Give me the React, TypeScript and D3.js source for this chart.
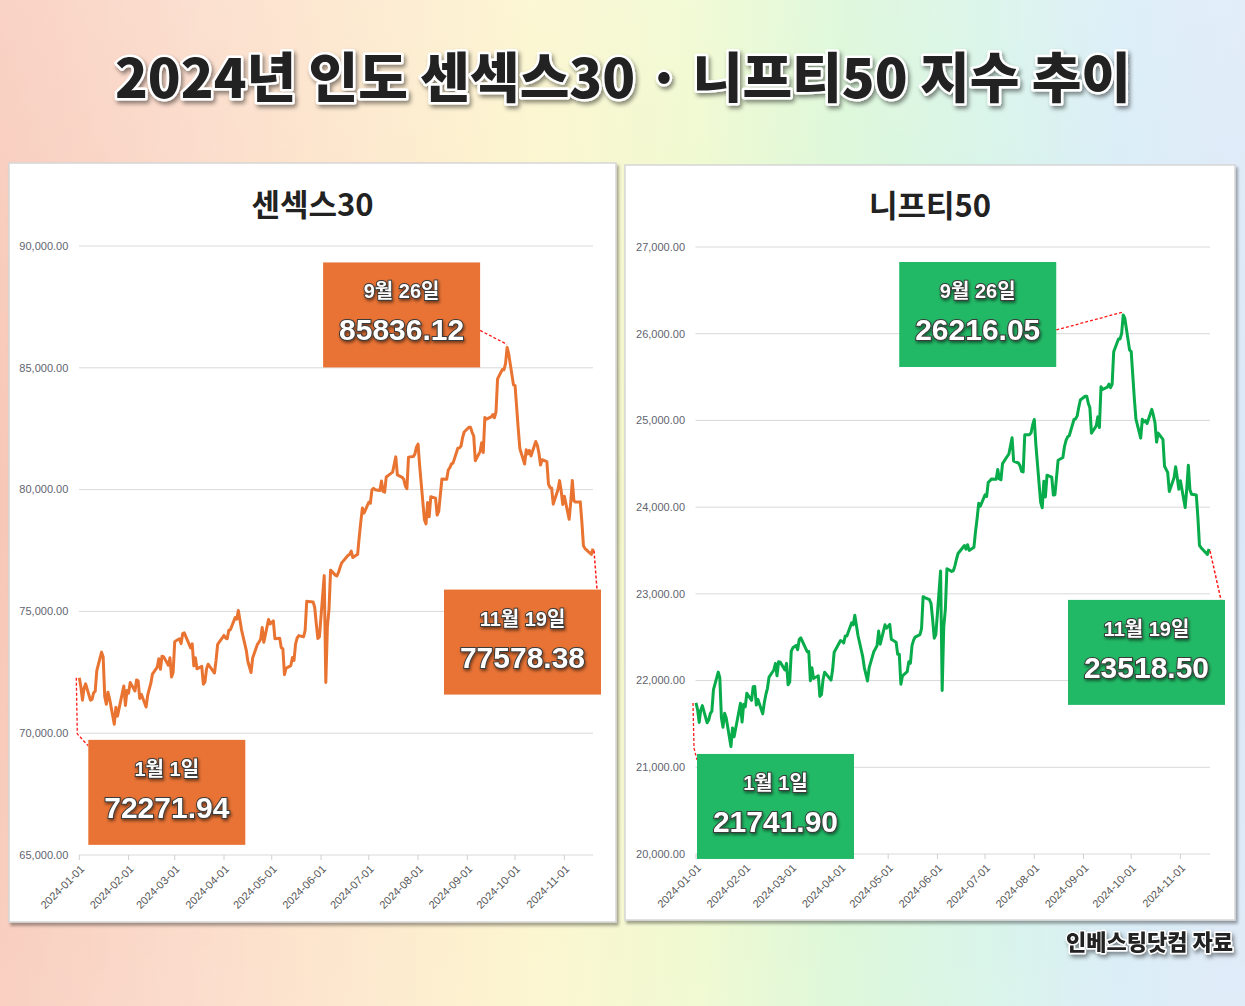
import React from 'react';
import * as d3 from 'd3';

const W = 1245;
const H = 1006;

// trading days per month (Jan..Nov 2024)
const tradeDaysByMonth: number[][] = [
  [1, 2, 3, 4, 5, 8, 9, 10, 11, 12, 15, 16, 17, 18, 19, 20, 23, 24, 25, 29, 30, 31],
  [1, 2, 5, 6, 7, 8, 9, 12, 13, 14, 15, 16, 19, 20, 21, 22, 23, 26, 27, 28, 29],
  [1, 2, 4, 5, 6, 7, 11, 12, 13, 14, 15, 18, 19, 20, 21, 22, 26, 27, 28],
  [1, 2, 3, 4, 5, 8, 9, 10, 12, 15, 16, 18, 19, 22, 23, 24, 25, 26, 29, 30],
  [2, 3, 6, 7, 8, 9, 10, 13, 14, 15, 16, 17, 18, 21, 22, 23, 24, 27, 28, 29, 30, 31],
  [3, 4, 5, 6, 7, 10, 11, 12, 13, 14, 18, 19, 20, 21, 24, 25, 26, 27, 28],
  [1, 2, 3, 4, 5, 8, 9, 10, 11, 12, 15, 16, 18, 19, 22, 23, 24, 25, 26, 29, 30, 31],
  [1, 2, 5, 6, 7, 8, 9, 12, 13, 14, 16, 19, 20, 21, 22, 23, 26, 27, 28, 29, 30],
  [2, 3, 4, 5, 6, 9, 10, 11, 12, 13, 16, 17, 18, 19, 20, 23, 24, 25, 26, 27, 30],
  [1, 3, 4, 7, 8, 9, 10, 11, 14, 15, 16, 17, 18, 21, 22, 23, 24, 25, 28, 29, 30, 31],
  [1, 4, 5, 6, 7, 8, 11, 12, 13, 14, 18, 19],
];
const tradeDates: Date[] = tradeDaysByMonth.flatMap((days, m) => days.map((d) => new Date(2024, m, d)));

const sensexClose: number[] = [
  // Jan
  72271.94, 71892.48, 71356.6, 71847.57, 72026.15, 71355.22, 71386.21, 71657.71, 71721.18, 72568.45, 73327.94, 73128.77, 71500.76, 71186.86, 71683.23, 71423.65, 70370.55, 71060.31, 70700.67, 71941.57, 71139.9, 71752.11,
  // Feb
  71645.3, 72085.63, 71731.42, 72186.09, 72152.0, 71428.43, 71595.49, 71072.49, 71555.19, 71822.83, 72050.38, 72426.64, 72708.16, 73057.4, 72623.09, 73158.24, 73142.8, 72790.13, 73095.22, 72304.88, 72500.3,
  // Mar
  73745.35, 73806.15, 73872.29, 73677.13, 74085.99, 74119.39, 73502.64, 73667.96, 72761.89, 73097.28, 72643.43, 72748.42, 72012.05, 72101.69, 72641.19, 72831.94, 72470.3, 72996.31, 73651.35,
  // Apr
  74014.55, 73903.91, 73876.82, 74227.63, 74248.22, 74742.5, 74683.7, 75038.15, 74244.9, 73399.78, 72943.68, 72488.99, 73088.33, 73648.62, 73738.45, 73852.94, 74339.44, 73730.16, 74671.28, 74482.78,
  // May
  74611.11, 73878.15, 73895.54, 73511.85, 73466.39, 72404.17, 72664.47, 72776.13, 73104.61, 72987.03, 73663.72, 73917.03, 74005.94, 73953.31, 74221.06, 75418.04, 75410.39, 75390.5, 75170.45, 74502.9, 73885.6, 73961.31,
  // Jun
  76468.78, 72079.05, 74382.24, 75074.51, 76693.36, 76490.08, 76456.59, 76606.57, 76810.9, 76992.77, 77301.14, 77337.59, 77478.93, 77209.9, 77341.08, 78053.52, 78674.25, 79243.18, 79032.73,
  // Jul
  79476.19, 79441.45, 79986.8, 80049.67, 79996.6, 79960.38, 80351.64, 79924.77, 79897.34, 80519.34, 80664.86, 80716.55, 81343.46, 80604.65, 80502.08, 80429.04, 80148.88, 80039.8, 81332.72, 81355.84, 81455.4, 81741.34,
  // Aug
  81867.55, 80981.95, 78759.4, 78593.07, 79468.01, 78886.22, 79705.91, 79648.92, 78956.03, 79105.88, 80436.84, 80424.68, 80802.86, 80905.3, 81053.19, 81086.21, 81698.11, 81711.76, 81785.56, 82134.61, 82365.77,
  // Sep
  82559.84, 82555.44, 82352.64, 82201.16, 81183.93, 81559.54, 81921.29, 81523.16, 82962.71, 82890.94, 82988.78, 83079.66, 82948.23, 83184.8, 84544.31, 84928.61, 84914.04, 85169.87, 85836.12, 85571.85, 84299.78,
  // Oct
  84266.29, 82497.1, 81688.45, 81050.0, 81634.81, 81467.1, 81611.41, 81381.36, 81973.05, 81820.12, 81501.36, 81006.61, 81224.75, 81151.27, 80220.72, 80081.98, 80065.16, 79402.29, 80005.04, 80369.03, 79942.18, 79389.06,
  // Nov
  79724.12, 78782.24, 79476.63, 80378.13, 79541.79, 79486.32, 79496.15, 78675.18, 77690.95, 77580.31, 77339.01, 77578.38,
];

const niftyClose: number[] = [
  // Jan
  21741.9, 21665.8, 21517.35, 21658.6, 21710.8, 21513.0, 21544.85, 21618.7, 21647.2, 21894.55, 22097.45, 22032.3, 21571.95, 21462.25, 21622.4, 21571.8, 21238.8, 21453.95, 21352.6, 21737.6, 21522.1, 21725.7,
  // Feb
  21697.45, 21853.8, 21771.7, 21929.4, 21930.5, 21717.95, 21782.5, 21616.05, 21743.25, 21840.05, 21910.75, 22040.7, 22122.25, 22196.95, 22055.05, 22217.45, 22212.7, 22122.05, 22198.35, 21951.15, 21982.8,
  // Mar
  22338.75, 22378.4, 22405.6, 22356.3, 22474.05, 22493.55, 22332.65, 22335.7, 21997.7, 22146.65, 22023.35, 22055.7, 21817.45, 21839.1, 22011.95, 22096.75, 22004.7, 22123.65, 22326.9,
  // Apr
  22462.0, 22453.3, 22434.65, 22514.65, 22513.7, 22666.3, 22642.75, 22753.8, 22519.4, 22272.5, 22147.0, 21995.85, 22147.0, 22336.4, 22368.0, 22402.4, 22570.35, 22419.95, 22643.4, 22604.85,
  // May
  22648.2, 22475.85, 22442.7, 22302.5, 22302.5, 21957.5, 22055.2, 22104.05, 22217.85, 22200.55, 22403.85, 22466.1, 22502.0, 22529.05, 22597.8, 22967.65, 22957.1, 22932.45, 22888.15, 22704.7, 22488.65, 22530.7,
  // Jun
  23263.9, 21884.5, 22620.35, 22821.4, 23290.15, 23259.2, 23264.85, 23322.95, 23398.9, 23465.6, 23557.9, 23516.0, 23567.0, 23501.1, 23537.85, 23721.3, 23868.8, 24044.5, 24010.6,
  // Jul
  24141.95, 24123.85, 24286.5, 24302.15, 24323.85, 24320.55, 24433.2, 24324.45, 24315.95, 24502.15, 24586.7, 24613.0, 24800.85, 24530.9, 24509.25, 24479.05, 24413.5, 24406.1, 24834.85, 24836.1, 24857.3, 24951.15,
  // Aug
  25010.9, 24717.7, 24055.6, 23992.55, 24297.5, 24117.0, 24367.5, 24347.0, 24139.0, 24143.75, 24541.15, 24572.65, 24698.85, 24770.2, 24811.5, 24823.15, 25010.6, 25017.75, 25052.35, 25151.95, 25235.9,
  // Sep
  25278.7, 25279.85, 25198.7, 25145.1, 24852.15, 24936.4, 25041.1, 24918.45, 25388.9, 25356.5, 25383.75, 25418.55, 25377.55, 25415.8, 25790.95, 25939.05, 25940.4, 26004.15, 26216.05, 26178.95, 25810.85,
  // Oct
  25796.9, 25250.1, 25014.6, 24795.75, 25013.15, 24981.95, 24998.45, 24964.25, 25127.95, 25057.35, 24971.3, 24749.85, 24854.05, 24781.1, 24472.1, 24435.5, 24399.4, 24180.8, 24339.15, 24466.85, 24340.85, 24205.35,
  // Nov
  24304.35, 23995.35, 24213.3, 24484.05, 24199.35, 24148.2, 24141.3, 23883.45, 23559.05, 23532.7, 23453.8, 23518.5,
];

const sensexTicks = [65000, 70000, 75000, 80000, 85000, 90000];
const niftyTicks = [20000, 21000, 22000, 23000, 24000, 25000, 26000, 27000];
const monthTicks = ['2024-01-01', '2024-02-01', '2024-03-01', '2024-04-01', '2024-05-01', '2024-06-01', '2024-07-01', '2024-08-01', '2024-09-01', '2024-10-01', '2024-11-01'];

const startLabel = '1월 1일';
const peakLabel = '9월 26일';
const endLabel = '11월 19일';
const sensexCallouts = ['72271.94', '85836.12', '77578.38'];
const niftyCallouts = ['21741.90', '26216.05', '23518.50'];

const parseDay = d3.timeParse('%Y-%m-%d');
const fmtTick = d3.format(',.2f');

type Box = { dx: number; dy: number };
type ChartCfg = {
  title: string;
  values: number[];
  ticks: number[];
  color: string;
  boxColor: string;
  callouts: string[];
  panel: { x: number; y: number; w: number; h: number };
  plot: { left: number; right: number; top: number; bottom: number; gridL: number; gridR: number };
  titleY: number;
  boxes: { start: Box; peak: Box; end: Box };
};

const BOX_W = 157;
const BOX_H = 105;

const FONT_KR = "'Liberation Sans', Arial, 'Noto Sans CJK KR', sans-serif";
const FONT_HEAVY = "'Noto Sans CJK KR', 'Liberation Sans', sans-serif";

function CalloutBox({ x, y, color, label, value }: { x: number; y: number; color: string; label: string; value: string }) {
  return (
    <g>
      <rect x={x} y={y} width={BOX_W} height={BOX_H} fill={color} />
      <text
        x={x + BOX_W / 2}
        y={y + 36}
        textAnchor="middle"
        fontFamily={FONT_KR}
        fontWeight={700}
        fontSize={20}
        fill="#fff"
        stroke="#3a3a3a"
        strokeWidth={1.8}
        paintOrder="stroke"
        filter="url(#txtShadow)"
      >
        {label}
      </text>
      <text
        x={x + BOX_W / 2}
        y={y + 78}
        textAnchor="middle"
        fontFamily={FONT_KR}
        fontWeight={700}
        fontSize={30}
        fill="#fff"
        stroke="#3a3a3a"
        strokeWidth={2}
        paintOrder="stroke"
        filter="url(#txtShadow)"
      >
        {value}
      </text>
    </g>
  );
}

function Chart({ cfg }: { cfg: ChartCfg }) {
  const { plot, panel } = cfg;
  const x = d3
    .scaleTime()
    .domain([tradeDates[0], tradeDates[tradeDates.length - 1]])
    .range([plot.left, plot.right]);
  const y = d3
    .scaleLinear()
    .domain([cfg.ticks[0], cfg.ticks[cfg.ticks.length - 1]])
    .range([plot.bottom, plot.top]);
  const line = d3
    .line<number>()
    .x((_, i) => x(tradeDates[i]))
    .y((v) => y(v));

  const n = cfg.values.length;
  const peakIdx = d3.maxIndex(cfg.values);
  const p0 = [x(tradeDates[0]), y(cfg.values[0])];
  const pp = [x(tradeDates[peakIdx]), y(cfg.values[peakIdx])];
  const pe = [x(tradeDates[n - 1]), y(cfg.values[n - 1])];

  const b0 = { x: p0[0] + cfg.boxes.start.dx, y: p0[1] + cfg.boxes.start.dy };
  const bp = { x: pp[0] + cfg.boxes.peak.dx, y: pp[1] + cfg.boxes.peak.dy };
  const be = { x: pe[0] + cfg.boxes.end.dx, y: pe[1] + cfg.boxes.end.dy };

  return (
    <g>
      <rect x={panel.x} y={panel.y} width={panel.w} height={panel.h} fill="#fff" stroke="#d6d6d6" strokeWidth={1.5} filter="url(#panelShadow)" />
      <text
        x={panel.x + panel.w / 2}
        y={cfg.titleY}
        textAnchor="middle"
        fontFamily={FONT_HEAVY}
        fontWeight={700}
        fontSize={31}
        fill="#222"
      >
        {cfg.title}
      </text>
      {cfg.ticks.map((t) => (
        <g key={t}>
          <line x1={plot.gridL} x2={plot.gridR} y1={y(t)} y2={y(t)} stroke="#d9d9d9" strokeWidth={1} />
          <text
            x={plot.left - 11}
            y={y(t)}
            dy="0.35em"
            textAnchor="end"
            fontFamily="'Liberation Sans', Arial, sans-serif"
            fontSize={11}
            fill="#5f6470"
          >
            {fmtTick(t)}
          </text>
        </g>
      ))}
      {monthTicks.map((s) => {
        const tx = x(parseDay(s) as Date);
        return (
          <g key={s}>
            <line x1={tx} x2={tx} y1={plot.bottom} y2={plot.bottom + 5} stroke="#cfcfcf" strokeWidth={1} />
            <text
              transform={`translate(${tx + 3},${plot.bottom + 12}) rotate(-45)`}
              textAnchor="end"
              dy="0.35em"
              fontFamily="'Liberation Sans', Arial, sans-serif"
              fontSize={11}
              fill="#555"
            >
              {s}
            </text>
          </g>
        );
      })}
      <path d={line(cfg.values) || ''} fill="none" stroke={cfg.color} strokeWidth={3} strokeLinejoin="round" />

      {/* connectors */}
      <path
        d={`M${p0[0] - 3},${p0[1]} L${p0[0] - 2},${b0.y - 6} L${b0.x},${b0.y + 6}`}
        fill="none"
        stroke="#ff1a1a"
        strokeWidth={1.3}
        strokeDasharray="3,2"
      />
      <path d={`M${bp.x + BOX_W},${bp.y + 68} L${pp[0]},${pp[1] - 3}`} fill="none" stroke="#ff1a1a" strokeWidth={1.3} strokeDasharray="3,2" />
      <path d={`M${pe[0] + 1},${pe[1] + 2} L${be.x + BOX_W - 4},${be.y}`} fill="none" stroke="#ff1a1a" strokeWidth={1.5} strokeDasharray="3,2" />

      <CalloutBox x={b0.x} y={b0.y} color={cfg.boxColor} label={startLabel} value={cfg.callouts[0]} />
      <CalloutBox x={bp.x} y={bp.y} color={cfg.boxColor} label={peakLabel} value={cfg.callouts[1]} />
      <CalloutBox x={be.x} y={be.y} color={cfg.boxColor} label={endLabel} value={cfg.callouts[2]} />
    </g>
  );
}

const sensexCfg: ChartCfg = {
  title: '센섹스30',
  values: sensexClose,
  ticks: sensexTicks,
  color: '#e97432',
  boxColor: '#e87335',
  callouts: sensexCallouts,
  panel: { x: 9, y: 163, w: 607, h: 759 },
  plot: { left: 79.3, right: 593, top: 246, bottom: 855, gridL: 79, gridR: 593 },
  titleY: 216,
  boxes: { start: { dx: 9, dy: 62 }, peak: { dx: -184, dy: -85 }, end: { dx: -149, dy: 41 } },
};

const niftyCfg: ChartCfg = {
  title: '니프티50',
  values: niftyClose,
  ticks: niftyTicks,
  color: '#08ac4b',
  boxColor: '#22b966',
  callouts: niftyCallouts,
  panel: { x: 625, y: 165, w: 610, h: 755 },
  plot: { left: 696, right: 1209, top: 247, bottom: 854, gridL: 695.5, gridR: 1210 },
  titleY: 217,
  boxes: { start: { dx: 1, dy: 51 }, peak: { dx: -224, dy: -53 }, end: { dx: -141, dy: 51 } },
};

export default function App() {
  return (
    <svg
      width={W}
      height={H}
      viewBox={`0 0 ${W} ${H}`}
      style={{ position: 'absolute', left: 0, top: 0, display: 'block' }}
    >
      <defs>
        <linearGradient id="bg" x1="0" y1="0" x2="1" y2="0">
          <stop offset="0%" stopColor="#f7c4b2" />
          <stop offset="15%" stopColor="#fad4c0" />
          <stop offset="30%" stopColor="#fde5c4" />
          <stop offset="43%" stopColor="#fbf4c6" />
          <stop offset="56%" stopColor="#edf9c8" />
          <stop offset="68%" stopColor="#d5f6d2" />
          <stop offset="80%" stopColor="#d1f2e6" />
          <stop offset="90%" stopColor="#d3eaf6" />
          <stop offset="100%" stopColor="#d9e7f7" />
        </linearGradient>
        <linearGradient id="bgv" x1="0" y1="0" x2="0" y2="1">
          <stop offset="0%" stopColor="#ffffff" stopOpacity={0.25} />
          <stop offset="50%" stopColor="#ffffff" stopOpacity={0.05} />
          <stop offset="100%" stopColor="#ffffff" stopOpacity={0.2} />
        </linearGradient>
        <filter id="panelShadow" x="-5%" y="-5%" width="112%" height="112%">
          <feDropShadow dx={2} dy={3} stdDeviation={1.5} floodColor="#000" floodOpacity={0.35} />
        </filter>
        <filter id="txtShadow" x="-20%" y="-30%" width="140%" height="170%">
          <feDropShadow dx={1} dy={2} stdDeviation={1.5} floodColor="#000" floodOpacity={0.5} />
        </filter>
        <filter id="titleShadow" x="-5%" y="-30%" width="110%" height="170%">
          <feDropShadow dx={2} dy={3} stdDeviation={2} floodColor="#000" floodOpacity={0.45} />
        </filter>
      </defs>
      <rect x={0} y={0} width={W} height={H} fill="url(#bg)" />
      <rect x={0} y={0} width={W} height={H} fill="url(#bgv)" />

      <text
        x={623}
        y={98}
        textAnchor="middle"
        fontFamily={FONT_HEAVY}
        fontWeight={900}
        fontSize={54}
        fill="#232323"
        stroke="#ffffff"
        strokeWidth={5}
        paintOrder="stroke"
        strokeLinejoin="round"
        filter="url(#titleShadow)"
      >
        2024년 인도 센섹스30 · 니프티50 지수 추이
      </text>

      <Chart cfg={sensexCfg} />
      <Chart cfg={niftyCfg} />

      <text
        x={1233}
        y={950}
        textAnchor="end"
        fontFamily={FONT_HEAVY}
        fontWeight={900}
        fontSize={22}
        fill="#222"
        stroke="#ffffff"
        strokeWidth={3}
        paintOrder="stroke"
        strokeLinejoin="round"
        filter="url(#titleShadow)"
      >
        인베스팅닷컴 자료
      </text>
    </svg>
  );
}
